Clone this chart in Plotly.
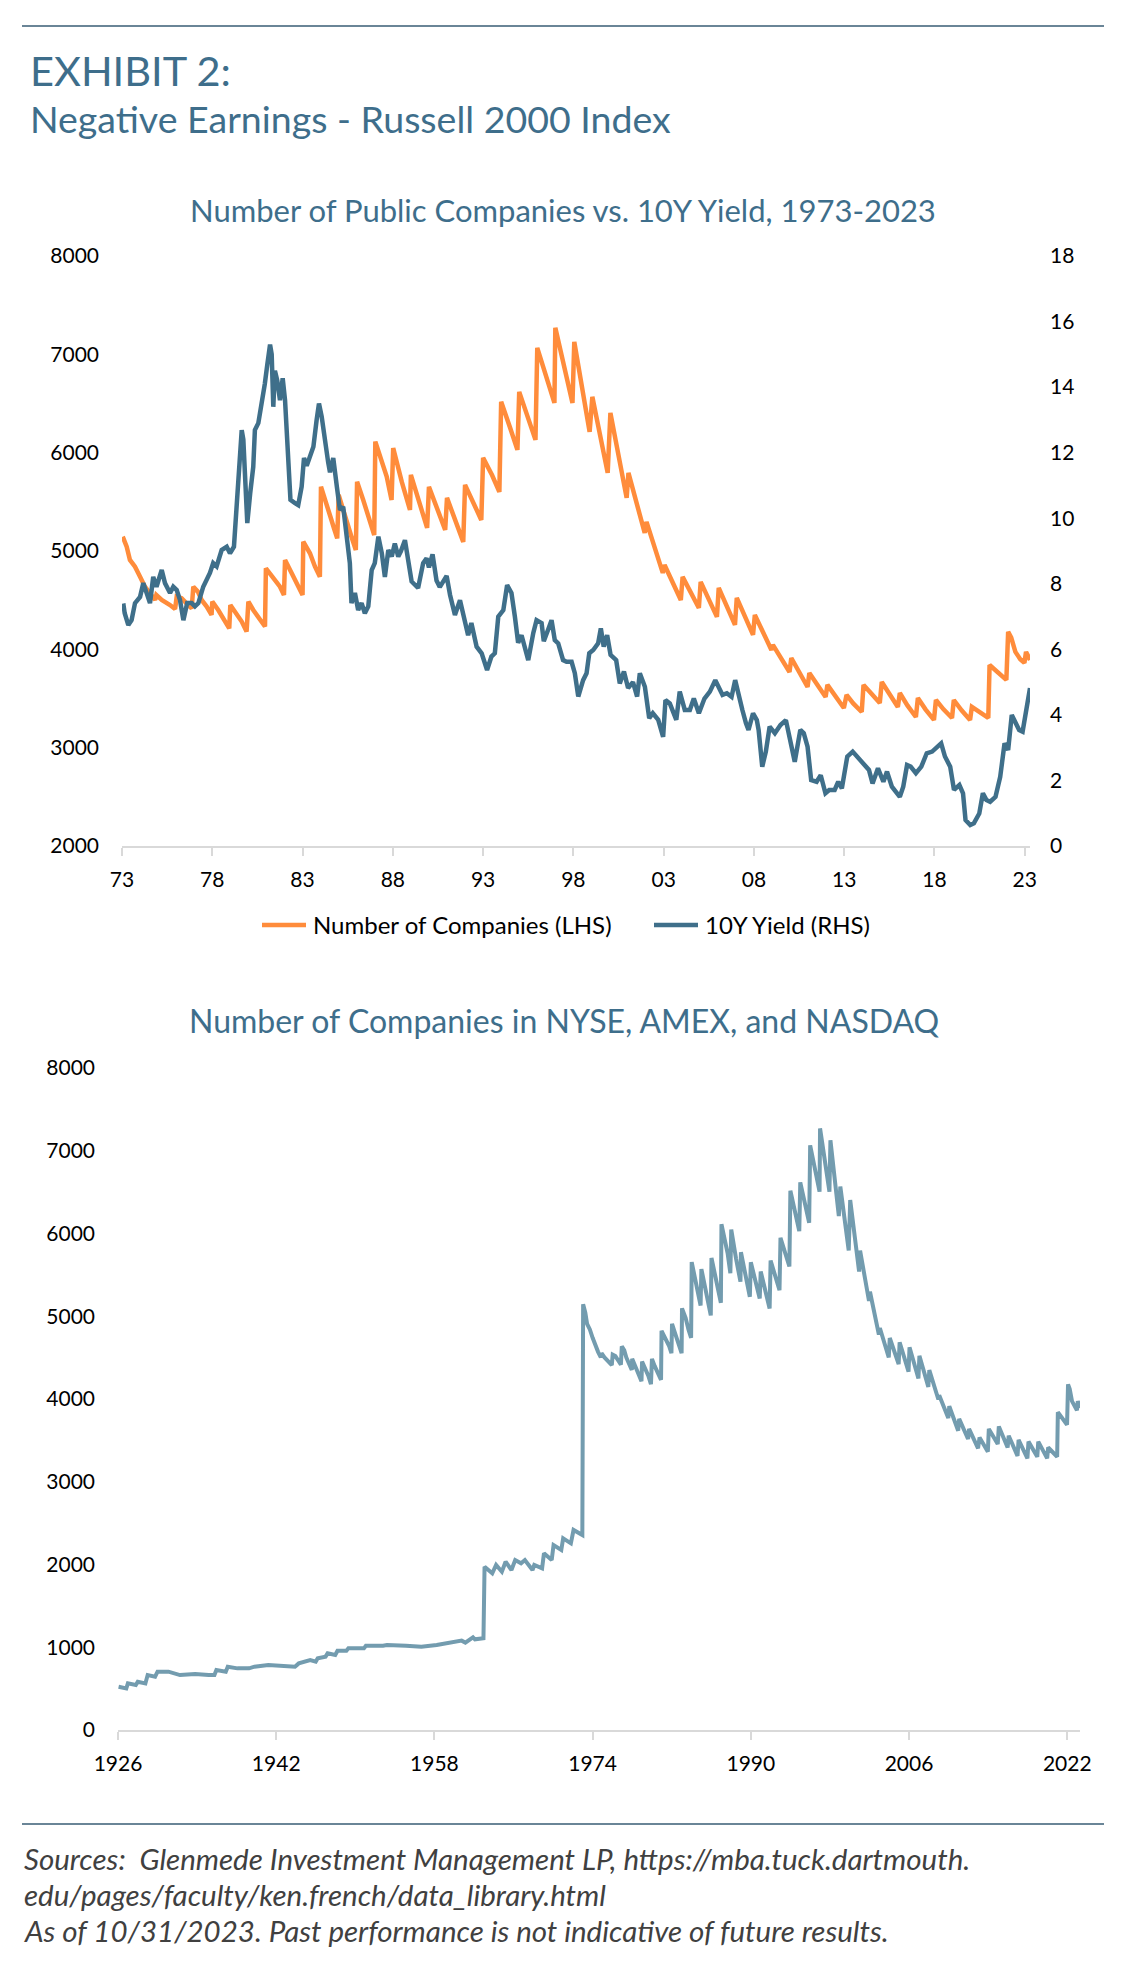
import plotly.graph_objects as go

# ---------------- data ----------------
# Number of public companies (NYSE, AMEX, NASDAQ), 1926-1972 (bottom chart only)
early_years = [1926.06, 1926.84, 1927.0, 1927.8, 1928.0, 1928.77, 1929.0, 1929.75, 1930.0, 1931.1,
               1932.27, 1933.8, 1935.17, 1935.75, 1935.95, 1936.9, 1937.1, 1938.08, 1939.25, 1939.8,
               1941.2, 1942.73, 1943.9, 1944.28, 1945.05, 1945.44, 1946.0, 1946.2, 1946.99, 1947.2,
               1947.97, 1948.2, 1949.1, 1949.3, 1950.87, 1951.07, 1952.8, 1953.2, 1955.13, 1956.68,
               1958.23, 1959.0, 1959.97, 1960.75, 1961.13, 1961.9, 1962.1, 1962.96, 1963.07, 1963.85,
               1964.24, 1964.82, 1965.2, 1965.79, 1966.17, 1966.76, 1967.15, 1967.92, 1968.1, 1968.89,
               1969.08, 1969.86, 1970.05, 1970.83, 1971.02, 1971.8, 1972.07, 1972.96]
early_counts = [523, 503, 563, 543, 583, 563, 664, 644, 705, 705,
                664, 676, 664, 664, 725, 705, 765, 745, 745, 765,
                785, 777, 765, 805, 826, 846, 826, 866, 886, 926,
                906, 958, 958, 987, 987, 1019, 1019, 1027, 1019, 1007,
                1027, 1040, 1056, 1080, 1056, 1120, 1096, 1108, 1973, 1893,
                1994, 1913, 2034, 1933, 2054, 2014, 2054, 1933, 1994, 1953,
                2135, 2054, 2235, 2175, 2316, 2256, 2417, 2356]

# Number of companies, 1973-2023 (both charts)
comp_years = [1973.04, 1973.26, 1973.44, 1973.72, 1974.0, 1974.27, 1974.55, 1974.83, 1974.9, 1975.2,
              1975.66, 1975.94, 1976.03, 1976.3, 1976.67, 1976.86, 1976.95, 1977.2, 1977.41, 1977.69,
              1977.96, 1978.0, 1978.33, 1978.6, 1978.94, 1979.0, 1979.35, 1979.63, 1979.9, 1980.0,
              1980.27, 1980.64, 1980.92, 1980.97, 1981.38, 1981.75, 1981.97, 1982.03, 1982.4, 1982.76,
              1983.0, 1983.04, 1983.41, 1983.69, 1983.96, 1984.02, 1984.33, 1984.6, 1984.74, 1984.92,
              1985.0, 1985.4, 1985.7, 1985.95, 1986.02, 1986.36, 1986.64, 1986.97, 1987.03, 1987.38,
              1987.66, 1987.93, 1988.02, 1988.5, 1988.95, 1989.0, 1989.5, 1989.9, 1990.0, 1990.5,
              1990.9, 1991.0, 1991.5, 1991.9, 1992.0, 1992.5, 1992.9, 1993.0, 1993.5, 1993.9,
              1994.0, 1994.5, 1994.9, 1995.0, 1995.5, 1995.9, 1996.0, 1996.5, 1996.95, 1997.0,
              1997.5, 1997.95, 1998.05, 1998.5, 1998.9, 1999.05, 1999.5, 1999.9, 2000.05, 2000.5,
              2000.95, 2001.05, 2001.5, 2001.95, 2002.05, 2002.5, 2002.95, 2003.05, 2003.5, 2003.95,
              2004.05, 2004.5, 2004.95, 2005.05, 2005.5, 2005.95, 2006.05, 2006.5, 2006.95, 2007.05,
              2007.5, 2007.95, 2008.05, 2008.5, 2008.97, 2009.05, 2009.5, 2009.97, 2010.07, 2010.5,
              2010.97, 2011.07, 2011.5, 2011.97, 2012.07, 2012.5, 2012.98, 2013.13, 2013.5, 2013.97,
              2014.07, 2014.5, 2014.97, 2015.08, 2015.5, 2015.97, 2016.08, 2016.5, 2016.97, 2017.08,
              2017.5, 2017.97, 2018.08, 2018.5, 2018.97, 2019.07, 2019.5, 2019.97, 2020.07, 2020.5,
              2020.98, 2021.05, 2021.5, 2021.98, 2022.08, 2022.25, 2022.48, 2022.75, 2022.98, 2023.07,
              2023.29]
comp_counts = [5146, 5044, 4909, 4840, 4739, 4637, 4570, 4502, 4553, 4502,
               4451, 4410, 4536, 4519, 4450, 4416, 4637, 4587, 4502, 4435,
               4350, 4486, 4400, 4316, 4214, 4451, 4367, 4282, 4180, 4485,
               4400, 4300, 4232, 4824, 4722, 4637, 4553, 4909, 4773, 4637,
               4553, 5095, 4977, 4840, 4739, 5654, 5451, 5315, 5231, 5129,
               5570, 5350, 5150, 5010, 5705, 5519, 5349, 5163, 6112, 5925,
               5756, 5519, 6048, 5700, 5418, 5774, 5480, 5235, 5652, 5420,
               5215, 5540, 5300, 5093, 5672, 5480, 5316, 5947, 5770, 5601,
               6517, 6250, 6028, 6618, 6350, 6130, 7066, 6750, 6506, 7270,
               6850, 6506, 7127, 6650, 6211, 6568, 6150, 5794, 6404, 5950,
               5540, 5794, 5480, 5184, 5296, 5020, 4777, 4858, 4680, 4502,
               4737, 4580, 4421, 4686, 4510, 4330, 4625, 4430, 4248, 4523,
               4330, 4147, 4350, 4170, 3994, 4045, 3900, 3770, 3912, 3760,
               3617, 3760, 3640, 3516, 3638, 3520, 3404, 3536, 3450, 3363,
               3638, 3550, 3455, 3668, 3540, 3414, 3556, 3430, 3312, 3505,
               3390, 3282, 3485, 3390, 3302, 3485, 3380, 3282, 3414, 3360,
               3302, 3841, 3760, 3689, 4177, 4120, 3974, 3900, 3862, 3974,
               3892]

# 10Y Treasury yield (%), 1973-2023
yield_years = [1973.07, 1973.15, 1973.35, 1973.53, 1973.72, 1974.0, 1974.18, 1974.36, 1974.55, 1974.73,
               1974.91, 1975.2, 1975.38, 1975.66, 1975.84, 1976.03, 1976.21, 1976.4, 1976.61, 1976.86,
               1977.04, 1977.23, 1977.5, 1977.87, 1978.05, 1978.24, 1978.52, 1978.8, 1978.98, 1979.2,
               1979.35, 1979.44, 1979.63, 1979.72, 1979.81, 1979.94, 1980.1, 1980.27, 1980.36, 1980.55,
               1980.64, 1980.82, 1980.91, 1981.05, 1981.2, 1981.29, 1981.38, 1981.47, 1981.6, 1981.75,
               1981.9, 1982.03, 1982.2, 1982.33, 1982.58, 1982.76, 1982.95, 1983.08, 1983.23, 1983.41,
               1983.6, 1983.78, 1983.91, 1984.06, 1984.24, 1984.42, 1984.52, 1984.7, 1984.9, 1985.07,
               1985.25, 1985.44, 1985.62, 1985.71, 1985.9, 1986.08, 1986.27, 1986.45, 1986.64, 1986.83,
               1987.0, 1987.2, 1987.39, 1987.56, 1987.75, 1987.94, 1988.11, 1988.3, 1988.45, 1988.67,
               1988.85, 1989.04, 1989.4, 1989.68, 1989.87, 1990.0, 1990.2, 1990.42, 1990.6, 1990.98,
               1991.17, 1991.44, 1991.72, 1992.0, 1992.17, 1992.35, 1992.64, 1992.92, 1993.22, 1993.46,
               1993.65, 1993.84, 1994.12, 1994.33, 1994.57, 1994.76, 1994.94, 1995.13, 1995.5, 1995.78,
               1995.96, 1996.24, 1996.36, 1996.6, 1996.79, 1996.97, 1997.16, 1997.43, 1997.62, 1997.9,
               1998.08, 1998.27, 1998.54, 1998.73, 1998.88, 1999.1, 1999.37, 1999.52, 1999.68, 1999.87,
               2000.06, 2000.37, 2000.57, 2000.8, 2001.03, 2001.3, 2001.53, 2001.68, 2001.96, 2002.2,
               2002.4, 2002.7, 2002.97, 2003.1, 2003.34, 2003.7, 2003.89, 2004.17, 2004.45, 2004.67,
               2004.95, 2005.26, 2005.56, 2005.86, 2006.06, 2006.26, 2006.5, 2006.76, 2006.96, 2007.16,
               2007.36, 2007.56, 2007.7, 2007.95, 2008.16, 2008.26, 2008.46, 2008.66, 2008.87, 2009.16,
               2009.47, 2009.77, 2009.97, 2010.26, 2010.57, 2010.76, 2010.97, 2011.17, 2011.47, 2011.7,
               2011.96, 2012.17, 2012.47, 2012.67, 2012.87, 2013.17, 2013.47, 2013.77, 2014.07, 2014.37,
               2014.57, 2014.87, 2015.17, 2015.37, 2015.64, 2015.87, 2016.08, 2016.27, 2016.48, 2016.68,
               2016.97, 2017.27, 2017.57, 2017.87, 2018.18, 2018.37, 2018.58, 2018.87, 2019.08, 2019.38,
               2019.58, 2019.72, 2019.98, 2020.18, 2020.48, 2020.68, 2020.88, 2021.08, 2021.38, 2021.64,
               2021.88, 2022.08, 2022.28, 2022.48, 2022.69, 2022.88, 2023.08, 2023.29]
yield_vals = [7.40, 7.10, 6.74, 6.89, 7.41, 7.60, 8.02, 7.72, 7.41, 8.21,
              7.91, 8.42, 8.02, 7.72, 7.91, 7.81, 7.51, 6.89, 7.41, 7.41,
              7.31, 7.41, 7.91, 8.33, 8.63, 8.53, 9.03, 9.13, 8.93, 9.13,
              10.35, 10.66, 12.69, 12.40, 10.96, 9.85, 10.76, 11.57, 12.69, 12.90,
              13.20, 13.70, 14.10, 14.70, 15.30, 15.00, 13.40, 14.50, 14.20, 13.60,
              14.27, 13.60, 12.00, 10.56, 10.46, 10.40, 10.96, 11.84, 11.60, 11.84,
              12.18, 13.00, 13.50, 13.10, 12.29, 11.70, 11.40, 11.84, 10.96, 10.25,
              10.35, 9.54, 8.63, 7.41, 7.72, 7.20, 7.41, 7.10, 7.31, 8.42,
              8.63, 9.44, 8.93, 8.21, 9.03, 8.83, 9.23, 8.83, 9.00, 9.33,
              8.63, 8.07, 7.87, 8.63, 8.78, 8.50, 8.90, 8.10, 7.90, 8.24,
              7.66, 7.05, 7.50, 6.80, 6.43, 6.80, 6.08, 5.88, 5.37, 5.78,
              5.88, 7.00, 7.20, 7.96, 7.72, 7.00, 6.20, 6.43, 5.67, 6.50,
              6.89, 6.80, 6.25, 6.60, 6.89, 6.28, 6.18, 5.67, 5.62, 5.62,
              5.27, 4.56, 5.06, 5.27, 5.88, 5.98, 6.18, 6.64, 6.08, 6.43,
              5.83, 5.67, 4.96, 5.32, 4.82, 5.00, 4.56, 5.27, 4.86, 3.90,
              4.05, 3.85, 3.33, 4.45, 4.35, 3.85, 4.71, 4.15, 4.15, 4.50,
              4.05, 4.50, 4.71, 5.06, 4.81, 4.61, 4.66, 4.55, 5.06, 4.55,
              4.15, 3.74, 3.54, 4.05, 3.84, 3.54, 2.42, 2.88, 3.64, 3.44,
              3.69, 3.84, 3.33, 2.57, 3.54, 3.44, 3.03, 2.01, 1.96, 2.16,
              1.61, 1.71, 1.71, 1.96, 1.76, 2.73, 2.88, 2.68, 2.52, 2.32,
              1.91, 2.37, 1.96, 2.27, 1.81, 1.66, 1.50, 1.81, 2.47, 2.42,
              2.22, 2.42, 2.83, 2.88, 3.03, 3.13, 2.73, 2.42, 1.71, 1.86,
              1.61, 0.79, 0.64, 0.69, 0.99, 1.61, 1.40, 1.35, 1.50, 2.11,
              3.13, 2.93, 4.00, 3.79, 3.54, 3.49, 4.10, 4.82]

top_tick_years = [1973, 1978, 1983, 1988, 1993, 1998, 2003, 2008, 2013, 2018, 2023]
top_tick_text = ["73", "78", "83", "88", "93", "98", "03", "08", "13", "18", "23"]
bottom_tick_years = [1926, 1942, 1958, 1974, 1990, 2006, 2022]
bottom_tick_text = ["1926", "1942", "1958", "1974", "1990", "2006", "2022"]

series_names = ["Number of Companies (LHS)", "10Y Yield (RHS)"]

footer_lines = [
    "Sources:&nbsp; Glenmede Investment Management LP, https://mba.tuck.dartmouth.",
    "edu/pages/faculty/ken.french/data_library.html",
    "As of 10/31/2023. Past performance is not indicative of future results.",
]

# ---------------- styling ----------------
W, H = 1127, 1972
ORANGE = "#FF8C3B"
DARKBLUE = "#3F6F8A"
LIGHTBLUE = "#739CAF"
TITLE_BLUE = "#3E6E8B"
AXIS_GRAY = "#D9D9D9"
FONT = "Lato"


def px_x(v):
    return v / W


def px_y(v):
    return 1 - v / H


fig = go.Figure()

fig.add_trace(go.Scatter(x=comp_years, y=comp_counts, mode="lines",
                         name=series_names[0], showlegend=False,
                         line=dict(color=ORANGE, width=4.5),
                         xaxis="x", yaxis="y"))
fig.add_trace(go.Scatter(x=yield_years, y=yield_vals, mode="lines",
                         name=series_names[1], showlegend=False,
                         line=dict(color=DARKBLUE, width=4.5),
                         xaxis="x", yaxis="y2"))
fig.add_trace(go.Scatter(x=early_years + comp_years, y=early_counts + comp_counts, mode="lines",
                         name="Number of Companies", showlegend=False,
                         line=dict(color=LIGHTBLUE, width=4),
                         xaxis="x3", yaxis="y3"))

tickfont = dict(family=FONT, size=21, color="#000000")

common_x = dict(showgrid=False, zeroline=False, showline=True, linecolor=AXIS_GRAY, linewidth=2,
                ticks="outside", ticklen=8, tickwidth=2, tickcolor=AXIS_GRAY, tickfont=tickfont,
                fixedrange=True, automargin=False, ticklabelstandoff=6)
common_y = dict(showgrid=False, zeroline=False, showline=False, ticks="", tickfont=tickfont,
                fixedrange=True, automargin=False)

fig.update_layout(
    template="none",
    width=W, height=H,
    autosize=False,
    margin=dict(l=0, r=0, t=0, b=0, pad=0, autoexpand=False),
    paper_bgcolor="white", plot_bgcolor="white",
    font=dict(family=FONT, color="#000000"),
    showlegend=False,
    xaxis=dict(domain=[px_x(122), px_x(1030)], range=[1973, 2023.29], anchor="y",
               tickmode="array", tickvals=top_tick_years, ticktext=top_tick_text, **common_x),
    yaxis=dict(domain=[px_y(846), px_y(256)], range=[2000, 8000], tickmode="linear", tick0=2000,
               dtick=1000, anchor="x", ticklabelstandoff=22, **common_y),
    yaxis2=dict(domain=[px_y(846), px_y(256)], range=[0, 18], tickmode="linear", tick0=0, dtick=2,
                overlaying="y", side="right", anchor="x", ticklabelstandoff=19, **common_y),
    xaxis3=dict(domain=[px_x(118), px_x(1080)], range=[1926, 2023.29], anchor="y3",
                tickmode="array", tickvals=bottom_tick_years, ticktext=bottom_tick_text, **common_x),
    yaxis3=dict(domain=[px_y(1730), px_y(1068)], range=[0, 8000], tickmode="linear", tick0=0,
                dtick=1000, anchor="x3", ticklabelstandoff=22, **common_y),
)

annotations = [
    dict(text="EXHIBIT 2:", x=px_x(28), y=px_y(70), xanchor="left", yanchor="middle",
         font=dict(family=FONT, size=41.5, color=TITLE_BLUE)),
    dict(text="Negative Earnings - Russell 2000 Index", x=px_x(28), y=px_y(119), xanchor="left",
         yanchor="middle", font=dict(family=FONT, size=37.5, color=TITLE_BLUE)),
    dict(text="Number of Public Companies vs. 10Y Yield, 1973-2023", x=px_x(563), y=px_y(210),
         xanchor="center", yanchor="middle", font=dict(family=FONT, size=31, color=TITLE_BLUE)),
    dict(text="Number of Companies in NYSE, AMEX, and NASDAQ", x=px_x(564), y=px_y(1020),
         xanchor="center", yanchor="middle", font=dict(family=FONT, size=32, color=TITLE_BLUE)),
]

# legend drawn as line samples + labels
legend_items = [(series_names[0], ORANGE, 262, 306, 311), (series_names[1], DARKBLUE, 654, 698, 703)]
shapes = []
for name, color, x0, x1, xt in legend_items:
    shapes.append(dict(type="line", xref="paper", yref="paper", x0=px_x(x0), x1=px_x(x1),
                       y0=px_y(925), y1=px_y(925), line=dict(color=color, width=4.5)))
    annotations.append(dict(text=name, x=px_x(xt), y=px_y(925), xanchor="left", yanchor="middle",
                            font=dict(family=FONT, size=24, color="#000000")))

# footer: three separate lines, spaced so their text boxes do not collide
for line, ypx in zip(footer_lines, [1858, 1894, 1930]):
    annotations.append(dict(text="<i>" + line + "</i>", x=px_x(22), y=px_y(ypx), xanchor="left",
                            yanchor="middle", align="left",
                            font=dict(family=FONT, size=29.5, color="#404040")))
for a in annotations:
    a.update(xref="paper", yref="paper", showarrow=False)

RULE = "#6A8597"
shapes += [
    dict(type="line", xref="paper", yref="paper", x0=px_x(22), x1=px_x(1104), y0=px_y(26), y1=px_y(26),
         line=dict(color=RULE, width=2)),
    dict(type="line", xref="paper", yref="paper", x0=px_x(22), x1=px_x(1104), y0=px_y(1824), y1=px_y(1824),
         line=dict(color=RULE, width=2)),
]
fig.update_layout(annotations=annotations, shapes=shapes)

fig.write_html("out.html", config={"displayModeBar": False, "staticPlot": True},
               post_script="document.body.style.margin='0';")
